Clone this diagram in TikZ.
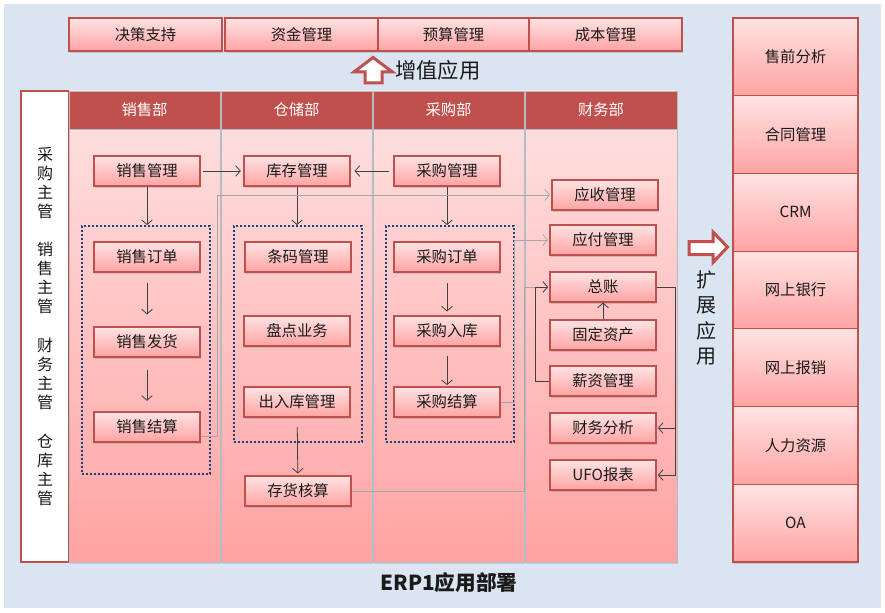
\documentclass[tikz,border=0pt]{standalone}
\usepackage{fontspec}
\setmainfont{Noto Sans CJK SC}
\usetikzlibrary{arrows.meta,positioning,shadows}
\definecolor{ink}{HTML}{1A1A1A}
\definecolor{arrowink}{HTML}{404040}
\definecolor{linkgray}{HTML}{A6A6A6}
\definecolor{headred}{HTML}{C0504D}
\definecolor{pinktop}{HTML}{FFE3E3}
\definecolor{pinkbot}{HTML}{FFA3A3}
\definecolor{canvas}{HTML}{DBE5F1}
\definecolor{dotblue}{HTML}{1F3F77}
\definecolor{divgray}{HTML}{B4BCC6}
\tikzset{
  flowarr/.style={-{Straight Barb[length=3.5pt,width=8pt]},line width=0.6pt,color=arrowink},
  softarr/.style={-{Straight Barb[length=3.5pt,width=8pt]},line width=0.6pt,color=linkgray},
  modcard/.style={draw=headred,line width=0.8pt,top color=pinktop,bottom color=pinkbot,minimum width=79.5pt,minimum height=22.5pt,inner sep=0pt,text=ink,font=\fontsize{11.5}{13}\selectfont,drop shadow={shadow xshift=1pt,shadow yshift=-1.2pt,opacity=0.3}},
  topcard/.style={modcard,minimum width=114.75pt,minimum height=24.75pt},
  sidecard/.style={modcard,minimum width=93.75pt,minimum height=58.3pt},
  colbody/.style={draw=divgray,line width=0.6pt,top color=pinktop,bottom color=pinkbot,minimum width=113.25pt,minimum height=353.25pt,inner sep=0pt,drop shadow={shadow xshift=1pt,shadow yshift=-1.2pt,opacity=0.25}},
  colhead/.style={draw=divgray,line width=0.6pt,fill=headred,minimum width=113.25pt,minimum height=28.5pt,inner sep=0pt,text=white,font=\fontsize{11.5}{13}\selectfont},
  dotgrp/.style={draw=dotblue,line width=1.4pt,dash pattern=on 1.4pt off 1.6pt,minimum width=96pt,inner sep=0pt},
  rolelbl/.style={align=center,text=ink,font=\fontsize{12}{14.25}\selectfont,inner sep=0pt}
}
\begin{document}
\begin{tikzpicture}[x=0.75pt,y=-0.75pt]
  \useasboundingbox (0,0) rectangle (885,613);
  \fill[white] (0,0) rectangle (885,613);
  \fill[canvas] (4,4) rectangle (881,608);

  % value-added modules
  \node[topcard] (decide) at (145.5,34.5) {决策支持};
  \node[topcard] (funds) at (301.5,34.5) {资金管理};
  \node[topcard,minimum width=113.25pt] (budget) at (453.5,34.5) {预算管理};
  \node[topcard] (costs) at (605.5,34.5) {成本管理};
  \draw[headred,fill=white,line width=2.25pt,line join=miter]
    (365,83)--(365,72)--(354,72)--(373,57.5)--(392.5,72)--(382,72)--(382,83)--cycle;
  \node[text=ink,font=\fontsize{16}{18}\selectfont,anchor=west,inner sep=0pt] (valuelbl) at (395,70) {增值应用};

  % roles
  \node[draw=headred,fill=white,line width=0.8pt,minimum width=36pt,minimum height=353.25pt,inner sep=0pt] (rolebox) at (45,326.5) {};
  \node[rolelbl] (buyrole) at (45,183) {采\\购\\主\\管};
  \node[rolelbl] (salerole) at (45,278) {销\\售\\主\\管};
  \node[rolelbl] (finrole) at (45,374) {财\\务\\主\\管};
  \node[rolelbl] (storerole) at (45,470) {仓\\库\\主\\管};

  % department columns
  \node[colbody] (salescol) at (144.5,326.5) {};
  \node[colbody] (storecol) at (296.5,326.5) {};
  \node[colbody] (buycol) at (448.5,326.5) {};
  \node[colbody,minimum width=114pt] (fincol) at (601,326.5) {};
  \node[colhead] (saleshead) at (144.5,110) {销售部};
  \node[colhead] (storehead) at (296.5,110) {仓储部};
  \node[colhead] (buyhead) at (448.5,110) {采购部};
  \node[colhead,minimum width=114pt] (finhead) at (601,110) {财务部};

  \node[dotgrp,minimum height=186pt] (salesgrp) at (146,350) {};
  \node[dotgrp,minimum height=162pt] (storegrp) at (298,334) {};
  \node[dotgrp,minimum height=162pt] (buygrp) at (450,334) {};

  % modules
  \node[modcard] (salesmgr) at (147,171) {销售管理};
  \node[modcard] (stockmgr) at (297,171) {库存管理};
  \node[modcard] (buymgr) at (447,171) {采购管理};
  \node[modcard] (salesorder) at (147,257) {销售订单};
  \node[modcard] (salesship) at (147,342) {销售发货};
  \node[modcard] (salesettle) at (147,427) {销售结算};
  \node[modcard] (barcode) at (298,257) {条码管理};
  \node[modcard] (stocktake) at (297,331) {盘点业务};
  \node[modcard] (inout) at (297,402) {出入库管理};
  \node[modcard] (stockacct) at (298,491) {存货核算};
  \node[modcard] (buyorder) at (447,257) {采购订单};
  \node[modcard] (buyin) at (447,331) {采购入库};
  \node[modcard] (buysettle) at (447,402) {采购结算};
  \node[modcard] (recvmgr) at (605,195) {应收管理};
  \node[modcard] (payable) at (603,240) {应付管理};
  \node[modcard] (ledger) at (603,287) {总账};
  \node[modcard] (fixasset) at (603,335) {固定资产};
  \node[modcard] (paymgr) at (603,381) {薪资管理};
  \node[modcard] (analysis) at (603,428) {财务分析};
  \node[modcard] (ufo) at (603,475) {UFO报表};

  % flows
  \draw[flowarr,shorten <=2pt,shorten >=2pt] (salesmgr) -- (stockmgr);
  \draw[flowarr,shorten <=3pt,shorten >=3pt] (buymgr) -- (stockmgr);
  \draw[flowarr] (salesmgr.south) -- (salesmgr.south |- salesgrp.north);
  \draw[flowarr] (stockmgr.south) -- (stockmgr.south |- storegrp.north);
  \draw[flowarr] (buymgr.south) -- (buymgr.south |- buygrp.north);
  \draw[flowarr,shorten <=8pt,shorten >=9pt] (salesorder) -- (salesship);
  \draw[flowarr,shorten <=9pt,shorten >=8pt] (salesship) -- (salesettle);
  \draw[flowarr,shorten <=8pt,shorten >=3pt] (buyorder) -- (buyin);
  \draw[flowarr,shorten <=7pt,shorten >=1pt] (buyin) -- (buysettle);
  \draw[flowarr,shorten <=7pt,shorten >=1.5pt] (inout) -- (stockacct);
  \draw[flowarr] (fixasset) -- (ledger);

  \coordinate (salebus) at (217,436);
  \coordinate (buybus) at (514,402);
  \coordinate (acctbus) at (524,491);
  \coordinate (ledgerbus) at (675,287);
  \draw[softarr,shorten >=1pt] (salesettle.east |- salebus) -- (salebus) |- (recvmgr.west);
  \draw[softarr,shorten >=1pt] (buysettle.east) -- (buybus) |- (payable.west);
  \draw[softarr,shorten >=1pt] (stockacct.east) -- (acctbus) |- (ledger.west);
  \draw[flowarr,shorten >=1pt] (paymgr.west) -- ++(-14,0) |- (ledger.west);
  \draw[flowarr,shorten >=1pt] (ledger.east) -- (ledgerbus) |- (analysis.east);
  \draw[flowarr,shorten >=1pt] (ledgerbus) |- (ufo.east);

  % extension modules
  \node[sidecard] (presale) at (795.5,56.9) {售前分析};
  \node[sidecard] (contract) at (795.5,134.6) {合同管理};
  \node[sidecard] (crm) at (795.5,212.3) {CRM};
  \node[sidecard] (ebank) at (795.5,290) {网上银行};
  \node[sidecard] (ereimb) at (795.5,367.7) {网上报销};
  \node[sidecard] (hr) at (795.5,445.4) {人力资源};
  \node[sidecard] (oa) at (795.5,523.1) {OA};
  \draw[headred,fill=white,line width=2.25pt,line join=miter]
    (689,241.5)--(713,241.5)--(713,232)--(727.5,247)--(713,262.5)--(713,254.5)--(689,254.5)--cycle;
  \node[align=center,text=ink,font=\fontsize{15}{19}\selectfont,inner sep=0pt] (extlbl) at (706,318) {扩\\展\\应\\用};

  \node[text=ink,font=\fontsize{15.5}{18}\selectfont\bfseries,inner sep=0pt] (title) at (449,583) {ERP1应用部署};
\end{tikzpicture}
\end{document}
